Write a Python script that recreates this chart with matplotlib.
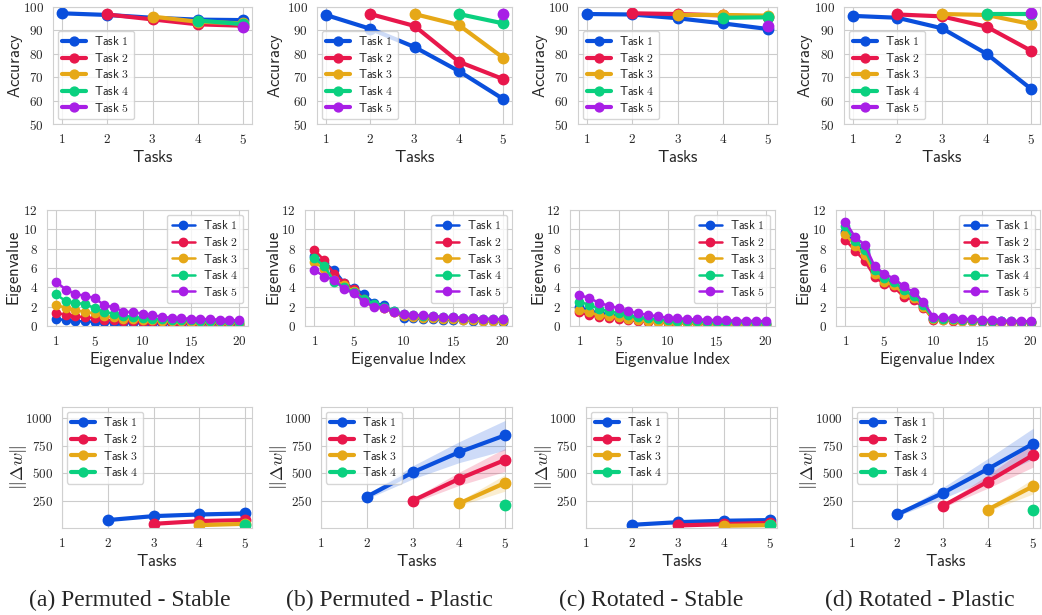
import numpy as np
import matplotlib
matplotlib.use("Agg")
import matplotlib.pyplot as plt
import seaborn as sns
from matplotlib.ticker import FuncFormatter

sns.set_style("whitegrid")
plt.rcParams['mathtext.fontset'] = 'cm'
plt.rcParams['font.family'] = ['DejaVu Sans']

# colours of the five tasks
colors = ['#0a4fdc', '#e8174b', '#e6a817', '#0ad07f', '#a81ee6']
task_names = ['Task 1', 'Task 2', 'Task 3', 'Task 4', 'Task 5']
captions = ['(a) Permuted - Stable', '(b) Permuted - Plastic',
            '(c) Rotated - Stable', '(d) Rotated - Plastic']

# ---- row 1: accuracy of each task after training on task t ----
tasks = [1, 2, 3, 4, 5]
acc_perm_stable = [[97.3, 96.6, 95.4, 94.6, 94.4],
                   [96.8, 94.7, 92.6, 92.0],
                   [95.9, 93.7, 93.0],
                   [94.2, 92.7],
                   [91.6]]
acc_perm_plastic = [[96.6, 90.7, 82.9, 72.6, 60.7],
                    [97.0, 91.9, 76.6, 69.2],
                    [97.0, 92.3, 78.3],
                    [97.0, 93.0],
                    [97.0]]
acc_rot_stable = [[97.0, 96.8, 95.2, 93.0, 90.6],
                  [97.3, 97.0, 96.4, 95.9],
                  [96.6, 96.6, 96.3],
                  [95.4, 95.6],
                  [91.9]]
acc_rot_plastic = [[96.2, 95.4, 90.9, 80.0, 65.0],
                   [96.8, 96.0, 91.6, 81.3],
                   [97.0, 96.6, 92.7],
                   [97.0, 97.0],
                   [97.3]]

# ---- row 2: top-20 hessian eigenvalues ----
eig_index = list(range(1, 21))
eig_perm_stable = [
    [0.76, 0.59, 0.52, 0.48, 0.42, 0.38, 0.34, 0.31, 0.29, 0.27, 0.25, 0.23, 0.22, 0.21, 0.2, 0.19, 0.18, 0.17, 0.16, 0.15],
    [1.35, 1.18, 1.0, 0.9, 0.8, 0.66, 0.59, 0.52, 0.48, 0.44, 0.41, 0.38, 0.36, 0.34, 0.32, 0.3, 0.29, 0.28, 0.26, 0.25],
    [2.2, 1.87, 1.63, 1.45, 1.31, 1.04, 0.9, 0.76, 0.69, 0.62, 0.58, 0.54, 0.5, 0.47, 0.45, 0.43, 0.41, 0.39, 0.37, 0.35],
    [3.29, 2.56, 2.42, 2.25, 1.87, 1.45, 1.28, 1.04, 0.97, 0.83, 0.75, 0.7, 0.65, 0.6, 0.57, 0.54, 0.51, 0.49, 0.47, 0.45],
    [4.57, 3.77, 3.32, 3.11, 2.9, 2.15, 1.94, 1.49, 1.42, 1.28, 1.1, 0.97, 0.83, 0.8, 0.76, 0.73, 0.7, 0.66, 0.62, 0.59]]
eig_perm_plastic = [
    [7.2, 6.5, 5.8, 4.5, 3.9, 3.3, 2.4, 2.15, 1.5, 0.85, 0.8, 0.75, 0.7, 0.65, 0.62, 0.6, 0.55, 0.52, 0.5, 0.45],
    [7.85, 6.8, 5.4, 4.5, 3.8, 2.8, 2.2, 1.9, 1.4, 1.1, 1.0, 0.95, 0.9, 0.85, 0.8, 0.75, 0.7, 0.66, 0.63, 0.6],
    [6.6, 5.9, 4.8, 4.2, 3.6, 2.7, 2.2, 1.9, 1.45, 1.0, 0.9, 0.85, 0.8, 0.75, 0.7, 0.65, 0.6, 0.56, 0.53, 0.5],
    [7.0, 6.2, 4.6, 4.0, 3.5, 2.8, 2.3, 2.0, 1.5, 1.25, 1.15, 1.08, 1.0, 0.95, 0.9, 0.85, 0.8, 0.76, 0.73, 0.7],
    [5.8, 5.1, 4.8, 3.8, 3.4, 2.5, 2.0, 1.9, 1.4, 1.2, 1.15, 1.1, 1.0, 0.95, 0.9, 0.85, 0.8, 0.75, 0.72, 0.7]]
eig_rot_stable = [
    [2.0, 1.6, 1.4, 1.2, 1.0, 0.85, 0.7, 0.6, 0.52, 0.46, 0.42, 0.39, 0.36, 0.34, 0.32, 0.3, 0.29, 0.27, 0.26, 0.25],
    [1.4, 1.1, 0.95, 0.85, 0.75, 0.6, 0.5, 0.45, 0.38, 0.33, 0.3, 0.27, 0.25, 0.23, 0.21, 0.2, 0.18, 0.17, 0.16, 0.15],
    [1.7, 1.45, 1.1, 1.0, 0.9, 0.75, 0.6, 0.5, 0.43, 0.38, 0.34, 0.31, 0.29, 0.27, 0.25, 0.24, 0.23, 0.22, 0.21, 0.2],
    [2.5, 2.2, 1.8, 1.5, 1.35, 1.1, 0.95, 0.8, 0.7, 0.6, 0.55, 0.5, 0.47, 0.44, 0.42, 0.4, 0.39, 0.37, 0.36, 0.35],
    [3.2, 2.9, 2.4, 2.1, 1.85, 1.55, 1.3, 1.15, 1.0, 0.85, 0.8, 0.72, 0.68, 0.65, 0.6, 0.58, 0.55, 0.53, 0.52, 0.5]]
eig_rot_plastic = [
    [9.7, 8.5, 7.6, 5.6, 4.8, 4.4, 3.5, 3.0, 2.1, 0.75, 0.7, 0.65, 0.6, 0.55, 0.52, 0.5, 0.47, 0.45, 0.42, 0.4],
    [8.9, 7.8, 6.7, 5.1, 4.3, 4.0, 3.0, 2.7, 1.9, 0.65, 0.6, 0.55, 0.5, 0.47, 0.45, 0.42, 0.4, 0.38, 0.36, 0.35],
    [9.5, 8.3, 7.3, 5.4, 4.6, 4.2, 3.3, 2.9, 2.0, 0.7, 0.65, 0.6, 0.56, 0.52, 0.5, 0.47, 0.45, 0.43, 0.41, 0.4],
    [10.3, 8.8, 7.9, 5.8, 5.0, 4.6, 3.7, 3.1, 2.2, 0.8, 0.75, 0.7, 0.65, 0.6, 0.56, 0.53, 0.5, 0.48, 0.46, 0.45],
    [10.8, 9.2, 8.4, 6.2, 5.4, 4.9, 4.1, 3.5, 2.5, 0.95, 0.9, 0.8, 0.75, 0.7, 0.65, 0.6, 0.55, 0.55, 0.5, 0.5]]

# ---- row 3: ||delta w|| (mean and std) ----
dw_perm_stable = [[72, 108, 123, 132], [38, 63, 72], [26, 38], [25]]
dw_perm_stable_std = [[6, 10, 12, 14], [4, 6, 8], [3, 5], [3]]
dw_perm_plastic = [[286, 507, 689, 843], [250, 447, 619], [223, 410], [211]]
dw_perm_plastic_std = [[20, 60, 95, 135], [20, 60, 105], [20, 75], [10]]
dw_rot_stable = [[29, 53, 66, 72], [23, 35, 47], [20, 26], [23]]
dw_rot_stable_std = [[4, 10, 14, 18], [3, 5, 7], [2, 3], [2]]
dw_rot_plastic = [[123, 317, 537, 767], [199, 422, 664], [168, 380], [162]]
dw_rot_plastic_std = [[15, 50, 95, 140], [15, 60, 110], [15, 70], [10]]

W, H = 1042, 615
fig = plt.figure(figsize=(W / 100, H / 100), dpi=100)


def rect(l, t, r, b):
    return [l / W, 1 - b / H, (r - l) / W, (b - t) / H]


# axes boxes in pixels (left, top, right, bottom) and x of the ylabel's right edge
row1 = [(53, 7, 252, 124), (317, 7, 512, 124), (578, 7, 777, 124), (844, 7, 1040, 124)]
row2 = [(47, 210, 248, 326), (305, 210, 512, 326), (570, 210, 775, 326), (836, 210, 1040, 326)]
row3 = [(62, 407, 252, 528), (321, 407, 512, 528), (586, 407, 777, 528), (852, 407, 1040, 528)]
ylab1 = [25, 285, 550, 815]
ylab2 = [24, 284, 549, 814]
ylab3 = [29, 289, 554, 819]

mathfmt = FuncFormatter(lambda v, p: r'$\mathrm{%g}$' % v)
tick_fs = 9.5
label_fs = 12
leg_fs = 8.5


def style(ax):
    ax.xaxis.set_major_formatter(mathfmt)
    ax.yaxis.set_major_formatter(mathfmt)
    ax.tick_params(labelsize=tick_fs, pad=3)
    for s in ax.spines.values():
        s.set_color('#d0d0d0')


def place_ylabel(ax, box, xpx):
    ax.yaxis.set_label_coords((xpx - box[0]) / (box[2] - box[0]), 0.5)


def task_label(name):
    return r'$\mathsf{%s}$' % name.replace(' ', r'\ ')


acc_all = [acc_perm_stable, acc_perm_plastic, acc_rot_stable, acc_rot_plastic]
eig_all = [eig_perm_stable, eig_perm_plastic, eig_rot_stable, eig_rot_plastic]
dw_all = [dw_perm_stable, dw_perm_plastic, dw_rot_stable, dw_rot_plastic]
dw_std_all = [dw_perm_stable_std, dw_perm_plastic_std, dw_rot_stable_std, dw_rot_plastic_std]

leg_kw = dict(fontsize=leg_fs, handlelength=2.0, borderpad=0.4, labelspacing=0.3,
              handletextpad=0.7, borderaxespad=0.4)

for c in range(4):
    # accuracy
    ax = fig.add_axes(rect(*row1[c]))
    for k in range(5):
        ax.plot(tasks[k:], acc_all[c][k], '-o', color=colors[k], lw=3, ms=7.5,
                label=task_label(task_names[k]))
    ax.set_xlim(0.8, 5.2)
    ax.set_ylim(50, 100)
    ax.set_xticks(tasks)
    ax.set_yticks([50, 60, 70, 80, 90, 100])
    ax.set_xlabel(r'$\mathsf{Tasks}$', fontsize=label_fs, labelpad=1)
    ax.set_ylabel(r'$\mathsf{Accuracy}$', fontsize=label_fs)
    place_ylabel(ax, row1[c], ylab1[c])
    ax.legend(loc='lower left', markerscale=0.85, **leg_kw)
    style(ax)

    # eigenvalues
    ax = fig.add_axes(rect(*row2[c]))
    for k in range(5):
        ax.plot(eig_index, eig_all[c][k], '-o', color=colors[k], lw=1.8, ms=6,
                label=task_label(task_names[k]))
    ax.set_xlim(0.05, 20.95)
    ax.set_ylim(0, 12)
    ax.set_xticks([1, 5, 10, 15, 20])
    ax.set_yticks([0, 2, 4, 6, 8, 10, 12])
    ax.set_xlabel(r'$\mathsf{Eigenvalue\ Index}$', fontsize=label_fs, labelpad=1)
    ax.set_ylabel(r'$\mathsf{Eigenvalue}$', fontsize=label_fs)
    place_ylabel(ax, row2[c], ylab2[c])
    ax.legend(loc='upper right', **leg_kw)
    style(ax)

    # weight change
    ax = fig.add_axes(rect(*row3[c]))
    for k in range(4):
        x = np.array(tasks[k + 1:])
        m = np.array(dw_all[c][k])
        s = np.array(dw_std_all[c][k])
        ax.plot(x, m, '-o', color=colors[k], lw=3, ms=7.5,
                label=task_label(task_names[k]))
        ax.fill_between(x, m - s, m + s, color=colors[k], alpha=0.2, lw=0)
    ax.set_xlim(1, 5.15)
    ax.set_ylim(0, 1100)
    ax.set_xticks(tasks)
    ax.set_yticks([250, 500, 750, 1000])
    ax.set_xlabel(r'$\mathsf{Tasks}$', fontsize=label_fs, labelpad=1)
    ax.set_ylabel(r'$\|\Delta w\|$', fontsize=label_fs + 1)
    place_ylabel(ax, row3[c], ylab3[c])
    ax.legend(loc='upper left', markerscale=0.85, **leg_kw)
    style(ax)

caption_x = [130, 389, 651, 920]
for c in range(4):
    fig.text(caption_x[c] / W, 1 - 600 / H, captions[c], ha='center', va='center',
             fontsize=17, family='Liberation Serif')

fig.savefig('out.png', dpi=100)
